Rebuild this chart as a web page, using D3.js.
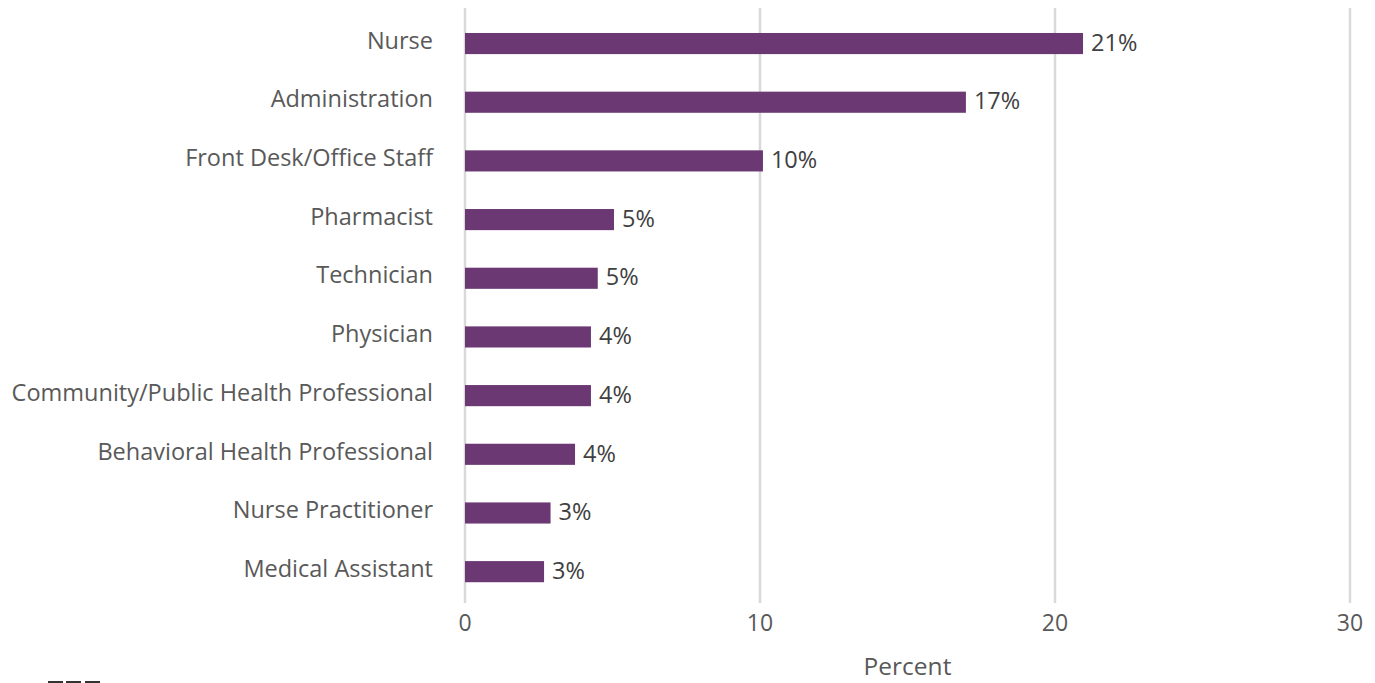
<!DOCTYPE html>
<html>
<head>
<meta charset="utf-8">
<script src="https://cdn.jsdelivr.net/npm/d3@7"></script>
<style>
  html, body { margin: 0; padding: 0; background: #ffffff; }
  svg { display: block; }
  text { font-family: "Open Sans", Lato, sans-serif; }
</style>
</head>
<body>
<svg id="chart" width="1375" height="683"></svg>
<script>
// Share of respondents by role (percent)
const roles = [
  "Nurse",
  "Administration",
  "Front Desk/Office Staff",
  "Pharmacist",
  "Technician",
  "Physician",
  "Community/Public Health Professional",
  "Behavioral Health Professional",
  "Nurse Practitioner",
  "Medical Assistant"
];
const percents = [20.95, 16.98, 10.1, 5.05, 4.5, 4.27, 4.27, 3.73, 2.9, 2.68];
const xTicks = [0, 10, 20, 30];
const xTitle = "Percent";

const rows = roles.map((r, i) => ({ role: r, value: percents[i] }));

const svg = d3.select("#chart");

const x = d3.scaleLinear().domain([0, 30]).range([465, 1350]);
const y = d3.scaleBand()
  .domain(roles)
  .range([14.2, 601])
  .paddingInner(0.64)
  .paddingOuter(0.32);

// vertical gridlines
svg.append("g")
  .selectAll("line")
  .data(xTicks)
  .join("line")
  .attr("x1", d => x(d))
  .attr("x2", d => x(d))
  .attr("y1", 8)
  .attr("y2", 603)
  .attr("stroke", "#d9d9d9")
  .attr("stroke-width", 2.5);

// x tick labels
svg.append("g")
  .selectAll("text")
  .data(xTicks)
  .join("text")
  .attr("x", d => x(d))
  .attr("y", 631)
  .attr("text-anchor", "middle")
  .attr("fill", "#595959")
  .attr("font-size", 23)
  .text(d => d);

// x axis title
svg.append("text")
  .attr("x", (x(0) + x(30)) / 2)
  .attr("y", 675)
  .attr("text-anchor", "middle")
  .attr("fill", "#595959")
  .attr("font-size", 24.5)
  .text(xTitle);

// category labels
svg.append("g")
  .selectAll("text")
  .data(roles)
  .join("text")
  .attr("x", 433)
  .attr("y", d => y(d) + y.bandwidth() / 2 - 3)
  .attr("dy", "0.35em")
  .attr("text-anchor", "end")
  .attr("fill", "#595959")
  .attr("font-size", 23.5)
  .text(d => d);

// bars
svg.append("g")
  .selectAll("rect")
  .data(rows)
  .join("rect")
  .attr("x", x(0))
  .attr("y", d => y(d.role))
  .attr("width", d => x(d.value) - x(0))
  .attr("height", y.bandwidth())
  .attr("fill", "#6b3874");

// value labels
svg.append("g")
  .selectAll("text")
  .data(rows)
  .join("text")
  .attr("x", d => x(d.value) + 8)
  .attr("y", d => y(d.role) + y.bandwidth() / 2 - 1)
  .attr("dy", "0.35em")
  .attr("fill", "#404040")
  .attr("font-size", 23.5)
  .text(d => Math.round(d.value) + "%");

// footnote marks at lower left
svg.append("g")
  .selectAll("rect")
  .data([48, 66, 85])
  .join("rect")
  .attr("x", d => d)
  .attr("y", 681)
  .attr("width", 15)
  .attr("height", 2)
  .attr("fill", "#333333");
</script>
</body>
</html>
